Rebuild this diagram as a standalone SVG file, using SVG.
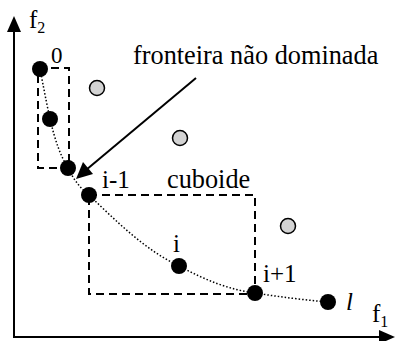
<svg xmlns="http://www.w3.org/2000/svg" width="396" height="341" viewBox="0 0 396 341">
<style>
.t{font-family:'Liberation Serif','DejaVu Serif',serif;fill:#000}
.lbl{font-size:25px}
.dash{fill:none;stroke:#000;stroke-width:2;stroke-dasharray:8 5}
.pt{fill:#000}
.dom{fill:#d3d3d3;stroke:#000;stroke-width:1.5}
.ax{stroke:#000;stroke-width:2;fill:none}
</style>
<g id="axes">
<line class="ax" x1="14" y1="338" x2="14" y2="30"/>
<path d="M14,16L21,32L7,32z" fill="#000"/>
<line class="ax" x1="13" y1="337" x2="382" y2="337"/>
<path d="M395,337L379,330L379,344z" fill="#000"/>
<text class="t" x="29" y="28" font-size="25">f<tspan font-size="16" dy="5">2</tspan></text>
<text class="t" x="372" y="322" font-size="25">f<tspan font-size="16" dy="5">1</tspan></text>
</g>
<g id="cuboids">
<rect class="dash" x="38" y="68" width="31" height="100"/>
<rect class="dash" x="89" y="195" width="166" height="99"/>
</g>
<g id="connectors">
<path d="M40,69 C45,95 48,110 50,119 C55,140 60,155 68,168 C74,180 80,188 89,195 C115,220 145,250 179,266 C205,280 230,290 255,293 C280,297 305,300 328,302" fill="none" stroke="#000" stroke-width="1.5" stroke-dasharray="1.5 2"/>
<line x1="196" y1="78" x2="86" y2="170" stroke="#000" stroke-width="2"/>
<path d="M76,179L83,162L93,174z" fill="#000"/>
</g>
<g id="dominated">
<circle class="dom" cx="97" cy="88" r="7.5"/>
<circle class="dom" cx="180" cy="138" r="7.5"/>
<circle class="dom" cx="288" cy="226" r="7.5"/>
</g>
<g id="p0"><circle class="pt" cx="40" cy="69" r="8"/><text class="t" x="51" y="63" font-size="23">0</text></g>
<g id="p1"><circle class="pt" cx="50" cy="119" r="8"/></g>
<g id="p2"><circle class="pt" cx="68" cy="168" r="8"/></g>
<g id="pim1"><circle class="pt" cx="89" cy="195" r="8"/><text class="t lbl" x="102" y="188">i-1</text></g>
<g id="pi"><circle class="pt" cx="179" cy="266" r="8"/><text class="t lbl" x="173" y="252">i</text></g>
<g id="pip1"><circle class="pt" cx="255" cy="293" r="8"/><text class="t lbl" x="263" y="282">i+1</text></g>
<g id="pl"><circle class="pt" cx="328" cy="302" r="8"/><text class="t lbl" x="346" y="310" font-style="italic">l</text></g>
<g id="labels">
<text class="t" x="133" y="64" font-size="26.3">fronteira não dominada</text>
<text class="t" x="167" y="188" font-size="26.3">cuboide</text>
</g>
</svg>
